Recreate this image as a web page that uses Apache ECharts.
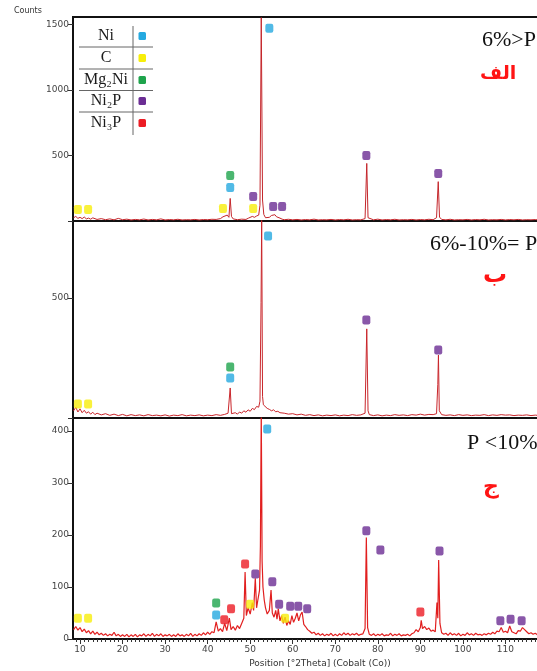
<!DOCTYPE html>
<html>
<head>
<meta charset="utf-8">
<script src="https://cdn.jsdelivr.net/npm/echarts@6/dist/echarts.min.js"></script>
<style>
html, body { margin: 0; padding: 0; background: #fff; }
#xrd { width: 537px; height: 671px; }
</style>
</head>
<body>
<div id="xrd"></div>
<script>
// tick labels
const xLabels = [10, 20, 30, 40, 50, 60, 70, 80, 90, 100, 110]
const yLabelsA = [500, 1000, 1500]
const yLabelsB = [500]
const yLabelsC = [0, 100, 200, 300, 400]

// scans: [2theta, counts]
const scanA = [[8.5,25],[9,35],[9.5,20],[10,28],[10.5,18],[11,30],[11.5,16],[12,22],[12.5,14],[13,24],[14,12],[15,18],[16,10],[17,16],[18,9],[19,20],[20,10],[21,14],[22,8],[23,12],[24,9],[25,15],[26,8],[27,12],[28,9],[29,16],[30,8],[31,11],[32,9],[33,13],[34,8],[35,10],[36,9],[37,12],[38,8],[39,11],[40,10],[41,13],[42,12],[43,18],[43.6,32],[44,20],[44.6,45],[45,28],[45.3,172],[45.6,35],[46,16],[47,10],[48,14],[49,12],[49.6,22],[50,18],[50.5,35],[51,28],[51.5,38],[52,45],[52.3,120],[52.6,1550],[52.9,160],[53.2,50],[53.6,25],[54,18],[54.5,28],[55,42],[55.4,30],[55.8,48],[56.2,32],[56.6,40],[57,22],[57.5,14],[58,10],[59,13],[60,9],[61,12],[62,8],[63,11],[64,9],[65,14],[66,8],[67,10],[68,9],[69,12],[70,8],[71,11],[72,9],[73,13],[74,8],[75,10],[76,9],[77,18],[77.4,439],[77.7,25],[78,12],[79,9],[80,14],[81,8],[82,11],[83,9],[84,13],[85,8],[86,10],[87,9],[88,12],[89,8],[90,11],[91,9],[92,13],[93,10],[93.8,25],[94.2,300],[94.5,30],[95,12],[96,9],[97,13],[98,8],[99,10],[100,9],[101,12],[102,8],[103,11],[104,9],[105,13],[106,8],[107,10],[108,9],[109,12],[110,8],[111,11],[112,9],[113,12],[114,8],[115,10],[116,9],[117,11],[118,8],[119,10],[120,9]]

const scanB = [[8.5,30],[9,45],[9.5,25],[10,38],[10.5,22],[11,32],[11.5,20],[12,26],[12.5,16],[13,24],[13.5,14],[14,20],[15,13],[16,18],[17,11],[18,16],[19,10],[20,15],[21,9],[22,14],[23,10],[24,13],[25,9],[26,14],[27,10],[28,12],[29,9],[30,13],[31,8],[32,12],[33,10],[34,14],[35,9],[36,12],[37,10],[38,13],[39,9],[40,12],[41,10],[42,14],[43,11],[44,15],[44.8,20],[45.1,14],[45.3,125],[45.6,18],[46,14],[46.5,22],[47,16],[47.5,25],[48,20],[48.5,30],[49,24],[49.5,34],[50,28],[50.5,40],[51,35],[51.5,48],[52,45],[52.3,70],[52.55,480],[52.7,830],[52.9,90],[53.1,55],[53.5,48],[54,40],[54.5,36],[55,30],[55.5,34],[56,26],[56.5,28],[57,22],[58,20],[59,16],[60,18],[61,13],[62,16],[63,11],[64,14],[65,10],[66,13],[67,9],[68,12],[69,10],[70,13],[71,9],[72,12],[73,10],[74,14],[75,11],[76,13],[77,20],[77.4,371],[77.7,30],[78,14],[79,10],[80,13],[81,9],[82,12],[83,10],[84,14],[85,11],[86,13],[87,10],[88,14],[89,12],[90,16],[91,12],[92,15],[93,14],[93.8,18],[94.1,140],[94.25,262],[94.45,30],[95,14],[96,11],[97,13],[98,10],[99,14],[100,11],[101,13],[102,10],[103,12],[104,11],[105,14],[106,10],[107,13],[108,11],[109,14],[110,12],[111,13],[112,10],[113,12],[114,11],[115,13],[116,10],[117,12],[118,10],[119,12],[120,11]]

const scanC = [[8.5,18],[9,24],[9.5,17],[10,22],[10.5,14],[11,19],[11.5,12],[12,16],[12.5,10],[13,15],[13.5,9],[14,13],[14.5,8],[15,11],[15.5,7],[16,10],[16.5,6],[17,9],[17.5,7],[18,13],[18.5,6],[19,9],[19.5,5],[20,8],[20.5,5],[21,9],[21.5,4],[22,8],[22.5,5],[23,9],[23.5,4],[24,8],[24.5,6],[25,10],[25.5,5],[26,9],[26.5,6],[27,11],[27.5,5],[28,9],[28.5,6],[29,10],[29.5,5],[30,8],[30.5,6],[31,9],[31.5,5],[32,8],[32.5,5],[33,10],[33.5,6],[34,8],[34.5,5],[35,9],[35.5,6],[36,11],[36.5,5],[37,9],[37.5,6],[38,10],[38.5,7],[39,12],[39.5,8],[40,13],[40.5,9],[41,14],[41.5,12],[42,33],[42.5,15],[43,20],[43.5,14],[44,30],[44.5,16],[45.1,40],[45.5,18],[46,24],[46.5,17],[47,26],[47.5,20],[48,30],[48.5,40],[48.8,129],[49.1,45],[49.5,60],[50,48],[50.5,70],[50.8,55],[51.2,117],[51.5,60],[51.8,75],[52.2,94],[52.4,180],[52.6,440],[52.8,150],[53,100],[53.3,75],[53.6,60],[54,48],[54.5,55],[54.9,94],[55.2,50],[55.6,42],[56,55],[56.3,38],[56.6,58],[57,35],[57.4,45],[57.8,30],[58.2,42],[58.6,26],[59,35],[59.4,28],[59.8,45],[60.2,32],[60.6,40],[61,50],[61.4,35],[61.8,46],[62.2,52],[62.6,28],[63,24],[63.5,18],[64,15],[64.5,11],[65,13],[65.5,8],[66,11],[66.5,7],[67,10],[67.5,6],[68,9],[68.5,7],[69,11],[69.5,6],[70,9],[70.5,6],[71,10],[71.5,7],[72,12],[72.5,8],[73,11],[73.5,7],[74,10],[74.5,8],[75,11],[75.5,7],[76,9],[76.5,10],[77,20],[77.3,195],[77.6,22],[78,9],[78.5,7],[79,10],[79.5,6],[80,9],[80.5,7],[81,10],[81.5,6],[82,8],[82.5,7],[83,11],[83.5,6],[84,9],[84.5,7],[85,10],[85.5,6],[86,8],[86.5,7],[87,9],[87.5,6],[88,10],[88.5,12],[89,18],[89.5,14],[90,22],[90.2,36],[90.5,20],[91,24],[91.5,18],[92,21],[92.5,15],[93,17],[93.5,14],[93.9,70],[94.1,40],[94.3,152],[94.6,30],[95,12],[95.5,9],[96,11],[96.5,7],[97,12],[97.5,8],[98,10],[98.5,7],[99,11],[99.5,6],[100,9],[100.5,7],[101,12],[101.5,8],[102,10],[102.5,7],[103,11],[103.5,8],[104,9],[104.5,7],[105,10],[105.5,8],[106,11],[106.5,9],[107,13],[107.5,10],[108,15],[108.5,14],[109,22],[109.5,13],[110,15],[110.5,12],[111,25],[111.5,14],[112,12],[112.5,10],[113,16],[113.5,15],[114,22],[114.5,18],[115,14],[115.5,10],[116,12],[116.5,9],[117,11],[117.5,8],[118,10],[118.5,8],[119,11],[119.5,8],[120,9]]

// phase markers, one list per panel (A, B, C)
const phaseNames = ['Ni', 'C', 'Mg₂Ni', 'Ni₂P', 'Ni₃P']
const phaseColors = ['#25a9e0', '#f7ee0a', '#1ea44c', '#6b2d94', '#ec1c24']
const markNi = [[[54.5,1470],[45.3,256]], [[54.2,758],[45.3,167]], [[54.0,404],[42.0,46]]]
const markC = [[[9.5,88],[11.9,88],[43.6,95],[50.7,95]], [[9.5,58],[11.9,58]], [[9.5,40],[11.9,40],[50.0,67],[58.2,40]]]
const markMg2Ni = [[[45.3,347]], [[45.3,212]], [[42.0,69]]]
const markNi2P = [[[50.7,187],[55.4,110],[57.5,110],[77.3,500],[94.2,363]], [[77.3,408],[94.2,283]], [[51.2,125],[55.2,110],[56.8,67],[59.4,63],[61.3,63],[63.4,58],[77.3,208],[80.6,171],[94.5,169],[108.8,35],[111.2,38],[113.8,35]]]
const markNi3P = [[], [], [[48.8,144],[43.9,37],[45.5,58],[90.0,52]]]

const myChart = echarts.init(document.getElementById('xrd'))
const font = 'DejaVu Sans'
const serif = 'Liberation Serif'

/*三个面板的网格，右侧超出画布*/
const grids = [
  { left: 73, top: 17, width: 475, height: 204 },
  { left: 73, top: 221, width: 475, height: 197 },
  { left: 73, top: 418, width: 475, height: 221 }
].map(g => Object.assign(g, { show: true, borderColor: '#111', borderWidth: 2, outerBoundsMode: 'none', containLabel: false }))

function xAxisFor(i) {
  return {
    type: 'value', gridIndex: i, min: 8.35, max: 120,
    axisLine: { show: true, lineStyle: { color: '#111', width: 2 } },
    axisTick: { show: i === 2, length: 5, lineStyle: { color: '#333' }, customValues: xLabels },
    axisLabel: { show: i === 2, fontSize: 9, color: '#444', fontFamily: font, margin: 6, customValues: xLabels },
    splitLine: { show: false }
  }
}
// minor ticks every degree on the bottom panel
const minorTicks = []
for (let t = 9; t <= 119; t++) if (t % 10 !== 0) minorTicks.push(t)

function yAxisFor(i, max, labels, ticks) {
  return {
    type: 'value', gridIndex: i, min: 0, max: max,
    axisLine: { show: true, lineStyle: { color: '#111', width: 2 } },
    axisTick: { show: true, length: 5, lineStyle: { color: '#333' }, customValues: ticks },
    axisLabel: { fontSize: 9, color: '#444', fontFamily: font, margin: 4, customValues: labels, formatter: v => String(v) },
    splitLine: { show: false }
  }
}

const scans = [scanA, scanB, scanC]
const lineColors = ['#c4262b', '#c9262b', '#e11f1f']
const lineWidths = [1, 1, 1.2]
const marks = [markNi, markC, markMg2Ni, markNi2P, markNi3P]

const series = []
scans.forEach((scan, i) => {
  series.push({
    type: 'line', data: scan, xAxisIndex: i, yAxisIndex: i,
    showSymbol: false, symbol: 'none', animation: false,
    lineStyle: { color: lineColors[i], width: lineWidths[i] }, z: 2
  })
})
marks.forEach((perPanel, p) => {
  perPanel.forEach((pts, i) => {
    series.push({
      name: phaseNames[p], type: 'scatter', data: pts, xAxisIndex: i, yAxisIndex: i,
      symbol: 'roundRect', symbolSize: [8, 9], animation: false,
      itemStyle: { color: phaseColors[p] }, z: 5
    })
  })
})

/*图例表格*/
const graphic = []
const rowY = [36, 58, 80, 101, 123]
phaseNames.forEach((name, k) => {
  graphic.push({
    type: 'text', x: 106, y: rowY[k],
    style: { text: name, font: '16px "' + serif + '"', fill: '#1a1a1a', align: 'center', verticalAlign: 'middle', textAlign: 'center', textVerticalAlign: 'middle' }
  })
  graphic.push({
    type: 'rect', shape: { x: 138.5, y: rowY[k] - 4, width: 7.5, height: 8, r: 1.5 },
    style: { fill: phaseColors[k] }
  })
  if (k < 4) {
    const ly = (rowY[k] + rowY[k + 1]) / 2
    graphic.push({ type: 'line', shape: { x1: 79, y1: ly, x2: 153, y2: ly }, style: { stroke: '#666', lineWidth: 1 } })
  }
})
graphic.push({ type: 'line', shape: { x1: 133, y1: 26, x2: 133, y2: 135 }, style: { stroke: '#666', lineWidth: 1 } })

function label(text, x, y, size, color, fam, weight) {
  return {
    type: 'text', x: x, y: y, z: 10,
    style: { text: text, font: (weight || 'normal') + ' ' + size + 'px "' + fam + '"', fill: color, align: 'left', verticalAlign: 'middle', textAlign: 'left', textVerticalAlign: 'middle' }
  }
}
graphic.push(label('6%>P', 482, 40, 22, '#111', serif))
graphic.push(label('الف', 480, 74, 19, '#ff1414', font, 'bold'))
graphic.push(label('6%-10%= P', 430, 244, 22, '#111', serif))
graphic.push(label('ب', 483, 276, 24, '#ff1414', font, 'bold'))
graphic.push(label('P <10%', 467, 443, 22, '#111', serif))
graphic.push(label('ج', 483, 487, 22, '#ff1414', font, 'bold'))
graphic.push(label('Counts', 14, 11, 8, '#333', font))
graphic.push({
  type: 'text', x: 320, y: 664,
  style: { text: 'Position [°2Theta] (Cobalt (Co))', font: '9px "' + font + '"', fill: '#333', align: 'center', verticalAlign: 'middle', textAlign: 'center', textVerticalAlign: 'middle' }
})

const xAxes = [xAxisFor(0), xAxisFor(1), xAxisFor(2), {
  type: 'value', gridIndex: 2, min: 8.35, max: 120, position: 'bottom', offset: 0,
  axisLine: { show: false },
  axisTick: { show: true, length: 3, lineStyle: { color: '#333' }, customValues: minorTicks },
  axisLabel: { show: false },
  splitLine: { show: false }
}]

const option = {
  backgroundColor: '#fff',
  animation: false,
  grid: grids,
  xAxis: xAxes,
  yAxis: [
    yAxisFor(0, 1555, yLabelsA, [0, 500, 1000, 1500]),
    yAxisFor(1, 820, yLabelsB, [0, 500]),
    yAxisFor(2, 425, yLabelsC, yLabelsC)
  ],
  series: series,
  graphic: graphic
}
option && myChart.setOption(option)
</script>
</body>
</html>
